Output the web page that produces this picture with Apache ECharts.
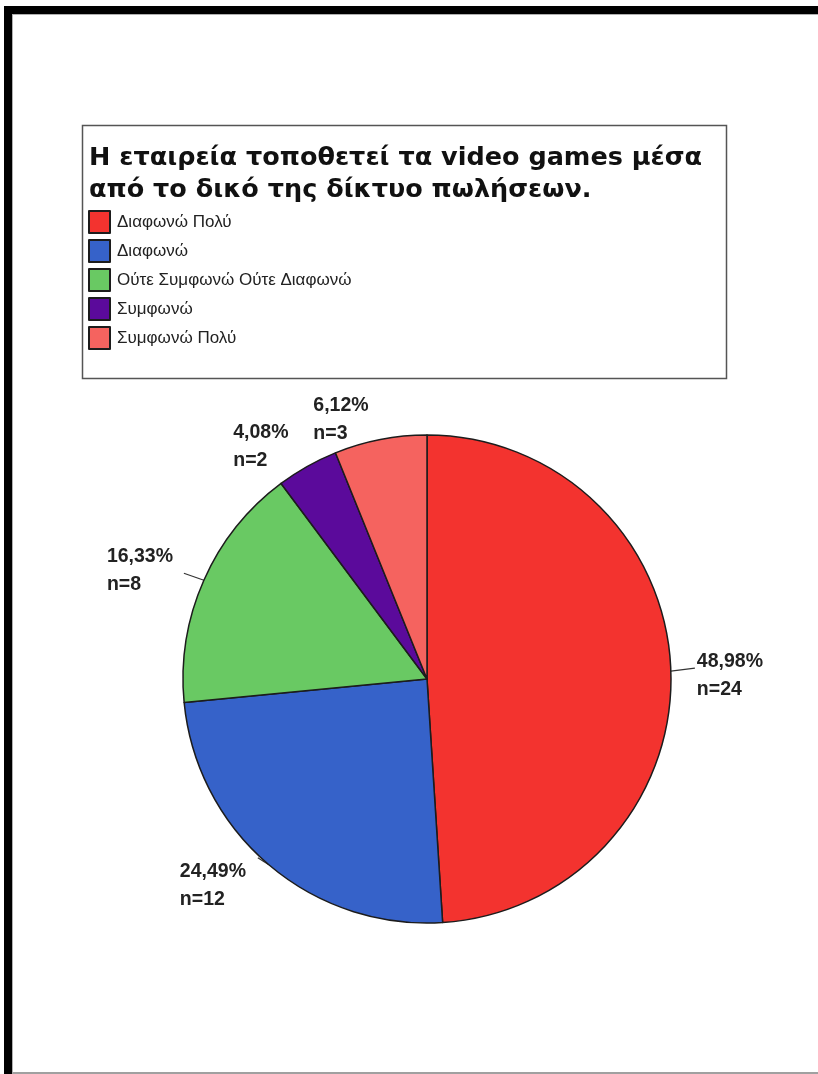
<!DOCTYPE html>
<html>
<head>
<meta charset="utf-8">
<title>Η εταιρεία τοποθετεί τα video games μέσα από το δικό της δίκτυο πωλήσεων.</title>
<script src="https://cdn.jsdelivr.net/npm/echarts@6/dist/echarts.min.js"></script>
<style>
  html, body { margin: 0; padding: 0; background: #fff; }
  #frame { position: absolute; left: 4px; top: 6px; width: 814px; height: 1068px;
           border-top: 8px solid #000; border-left: 8px solid #000; box-sizing: border-box; }
  #inner { position: absolute; left: 0; top: 0; right: -2px; bottom: 0;
           border-top: 1px solid #b0b0b0; border-left: 1px solid #b0b0b0; border-bottom: 2px solid #a0a0a0; }
  #chart { position: absolute; left: 0; top: 0; width: 818px; height: 1074px; }
</style>
</head>
<body>
<div id="frame"><div id="inner"></div></div>
<div id="chart"></div>
<script>
// Survey question and answer categories
const questionLines = ['Η εταιρεία τοποθετεί τα video games μέσα', 'από το δικό της δίκτυο πωλήσεων.'];
const categories = ['Διαφωνώ Πολύ', 'Διαφωνώ', 'Ούτε Συμφωνώ Ούτε Διαφωνώ', 'Συμφωνώ', 'Συμφωνώ Πολύ'];
// Number of respondents per answer
const counts = [24, 12, 8, 2, 3];
const sliceColors = ['#f3332f', '#3662c9', '#69c963', '#5b0a9b', '#f5635f'];

// Label placement relative to the slice's outer edge: [dx, dy, lineDx, lineDy]
const labelShift = [
  [26, -24, 24, -3],
  [-89, -7, -11, -7],
  [-97, -38, -20, -7],
  [-74, -48, 0, 0],
  [-67, -48, 0, 0]
];

const chart = echarts.init(document.getElementById('chart'), null, { renderer: 'canvas' });

chart.setOption({
  backgroundColor: 'transparent',
  animation: false,
  title: {
    text: questionLines.join('\n'),
    left: 89,
    top: 142,
    padding: 0,
    textStyle: {
      fontFamily: 'DejaVu Sans, Verdana, sans-serif',
      fontWeight: 'bold',
      fontSize: 25.5,
      lineHeight: 32,
      color: '#111'
    }
  },
  legend: {
    orient: 'vertical',
    left: 88,
    top: 210,
    padding: 0,
    itemWidth: 21,
    itemHeight: 22,
    itemGap: 5,
    icon: 'rect',
    selectedMode: false,
    data: categories,
    textStyle: {
      fontFamily: 'Liberation Sans, Arial, sans-serif',
      fontSize: 17,
      color: '#222',
      padding: [0, 0, 0, 2]
    }
  },
  graphic: [{
    type: 'rect',
    left: 80,
    top: 123,
    shape: { width: 644, height: 253 },
    style: { fill: 'none', stroke: '#555', lineWidth: 1.5 },
    z: -1
  }],
  series: [{
    type: 'pie',
    center: [427, 679],
    radius: 244,
    startAngle: 90,
    clockwise: true,
    avoidLabelOverlap: false,
    data: categories.map((name, i) => ({
      name: name,
      value: counts[i],
      itemStyle: { color: sliceColors[i] }
    })),
    itemStyle: { borderColor: '#1c1c1c', borderWidth: 1.5 },
    label: {
      show: true,
      position: 'outside',
      formatter: p => p.percent.toFixed(2).replace('.', ',') + '%\nn=' + p.value,
      fontFamily: 'Liberation Sans, Arial, sans-serif',
      fontWeight: 'bold',
      fontSize: 19.5,
      lineHeight: 28,
      color: '#222'
    },
    labelLine: {
      show: true,
      length: 10,
      length2: 5,
      lineStyle: { color: '#333', width: 1.2 }
    },
    labelLayout: function (p) {
      const e = p.labelLinePoints[0];
      const s = labelShift[p.dataIndex];
      const end = [e[0] + s[2], e[1] + s[3]];
      return {
        x: e[0] + s[0],
        y: e[1] + s[1],
        align: 'left',
        verticalAlign: 'top',
        labelLinePoints: [[e[0], e[1]], end, end]
      };
    },
    emphasis: { disabled: true }
  }]
});
</script>
</body>
</html>
